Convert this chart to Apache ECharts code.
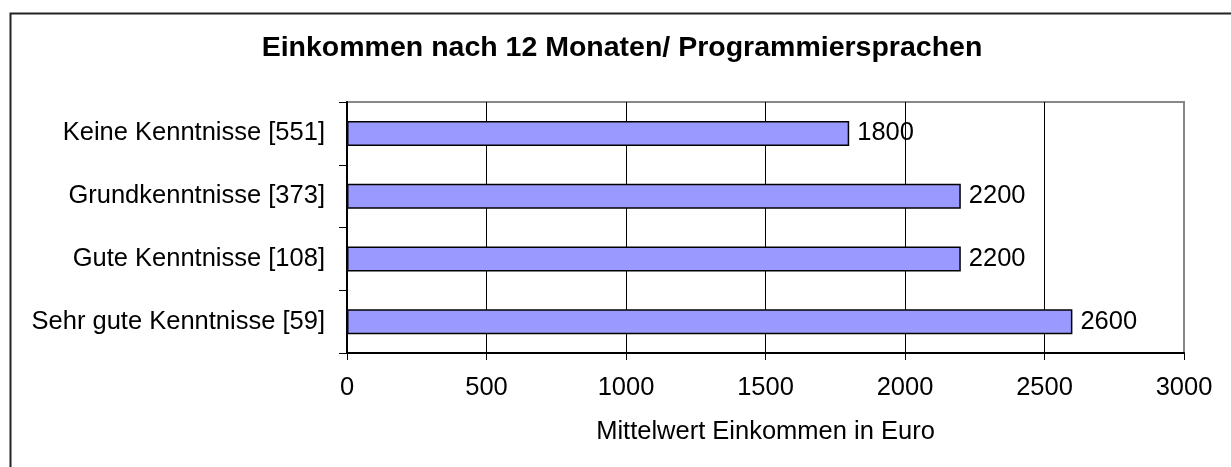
<!DOCTYPE html>
<html>
<head>
<meta charset="utf-8">
<script src="https://cdn.jsdelivr.net/npm/echarts@6/dist/echarts.min.js"></script>
<style>
  html, body { margin: 0; padding: 0; background: #fff; }
  #chart { width: 1231px; height: 467px; }
</style>
</head>
<body>
<div id="chart"></div>
<script>
const titleText = 'Einkommen nach 12 Monaten/ Programmiersprachen'
const categories = ['Keine Kenntnisse [551]', 'Grundkenntnisse [373]', 'Gute Kenntnisse [108]', 'Sehr gute Kenntnisse [59]']
const incomes = [1800, 2200, 2200, 2600]
const axisMin = 0
const axisMax = 3000
const axisStep = 500
const axisName = 'Mittelwert Einkommen in Euro'

const font = '"Liberation Sans", Arial, sans-serif'
const chart = echarts.init(document.getElementById('chart'), null, { renderer: 'canvas' })

var option = {
  backgroundColor: '#fff',
  animation: false,
  title: {
    text: titleText,
    left: 617,
    top: 29,
    textAlign: 'center',
    textStyle: {
      color: '#000',
      fontFamily: font,
      fontWeight: 'bold',
      fontSize: 28.5
    }
  },
  graphic: [
    {
      // outer frame, runs off the right/bottom edge like the original
      type: 'rect',
      shape: { x: 10.5, y: 13.5, width: 1400, height: 600 },
      style: { fill: null, stroke: '#222', lineWidth: 2 },
      silent: true
    }
  ],
  grid: {
    left: 347,
    top: 102,
    right: 47,
    bottom: 114,
    show: true,
    borderColor: '#888',
    borderWidth: 2,
    containLabel: false
  },
  xAxis: {
    type: 'value',
    min: axisMin,
    max: axisMax,
    interval: axisStep,
    name: axisName,
    nameLocation: 'middle',
    nameGap: 66,
    nameTextStyle: {
      color: '#000',
      fontFamily: font,
      fontSize: 25.5
    },
    axisLine: {
      show: true,
      lineStyle: { color: '#000', width: 2 }
    },
    axisTick: {
      show: true,
      length: 7,
      lineStyle: { color: '#000', width: 1 }
    },
    axisLabel: {
      color: '#000',
      fontFamily: font,
      fontSize: 25.5,
      margin: 22,
      formatter: function (v) { return String(v) }
    },
    splitLine: {
      show: true,
      showMinLine: false,
      showMaxLine: false,
      lineStyle: { color: '#000', width: 1 }
    }
  },
  yAxis: {
    type: 'category',
    inverse: true,
    data: categories,
    axisLine: {
      show: true,
      lineStyle: { color: '#000', width: 2 }
    },
    axisTick: {
      show: true,
      length: 8,
      lineStyle: { color: '#000', width: 1 }
    },
    axisLabel: {
      color: '#000',
      fontFamily: font,
      fontSize: 25.5,
      margin: 22
    },
    splitLine: { show: false }
  },
  series: [{
    type: 'bar',
    data: incomes,
    barWidth: 25,
    itemStyle: {
      color: '#9999FF',
      borderColor: '#000',
      borderWidth: 1.5
    },
    label: {
      show: true,
      position: 'right',
      distance: 8,
      color: '#000',
      fontFamily: font,
      fontSize: 25.5
    }
  }]
}

chart.setOption(option)
</script>
</body>
</html>
